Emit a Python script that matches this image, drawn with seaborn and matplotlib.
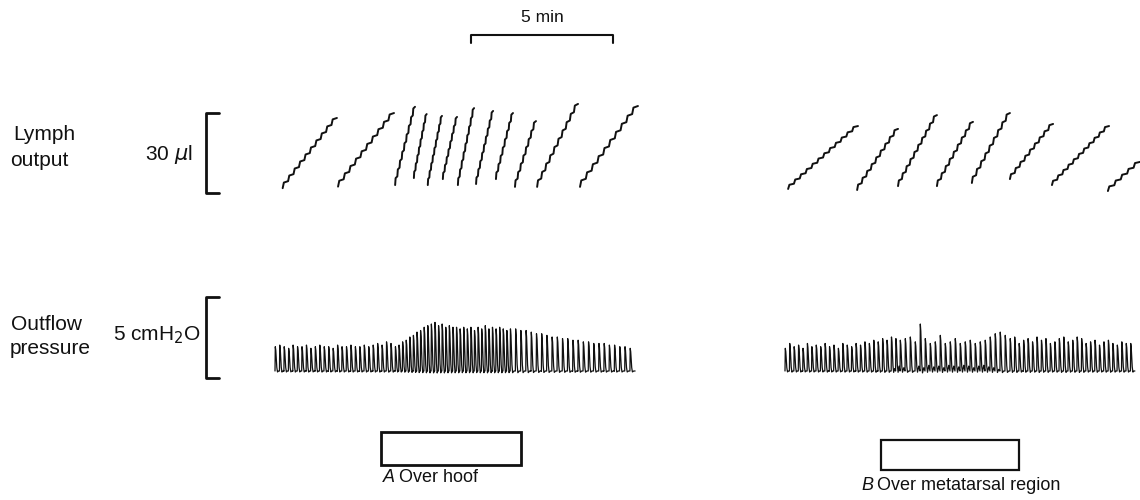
import numpy as np
import pandas as pd
import matplotlib
matplotlib.use("Agg")
import matplotlib.pyplot as plt
from matplotlib.patches import Rectangle
import seaborn as sns

# ---------------- data ----------------
# Lymph output ramps: start/end time (min from start of record), level (ul) at start/end, drops per ramp
A_ramp_t0 = [0.27, 2.22, 4.23, 4.89, 5.38, 5.91, 6.44, 7.08, 7.78, 8.45, 9.23, 10.74]
A_ramp_t1 = [2.18, 4.19, 4.93, 5.34, 5.88, 6.41, 7.01, 7.68, 8.38, 9.19, 10.67, 12.78]
A_ramp_v0 = [0.7, 1.3, 1.9, 4.6, 1.9, 4.2, 1.9, 2.3, 4.2, 1.2, 1.2, 1.2]
A_ramp_v1 = [27.7, 29.6, 32.0, 29.2, 28.5, 28.1, 31.5, 30.4, 29.6, 26.5, 33.1, 32.3]
A_ramp_drops = [10, 10, 9, 8, 9, 8, 9, 9, 8, 8, 10, 10]

B_ramp_t0 = [0.11, 2.54, 3.98, 5.35, 6.58, 7.92, 9.40, 11.37]
B_ramp_t1 = [2.57, 3.98, 5.35, 6.62, 7.92, 9.44, 11.41, 12.50]
B_ramp_v0 = [0.4, 0.0, 1.5, 1.5, 2.7, 4.2, 1.9, -0.4]
B_ramp_v1 = [24.6, 23.5, 28.8, 26.2, 29.6, 25.4, 24.6, 10.8]
B_ramp_drops = [12, 9, 10, 9, 9, 9, 11, 5]

# Outflow pressure: beats per segment, segment duration (min), beat amplitude (cmH2O)
A_seg_minutes = [4.23, 4.05, 4.40]
A_seg_beats = [27, 32, 24]
A_amp = [1.5, 1.6, 1.5, 1.4, 1.6, 1.5, 1.5, 1.6, 1.4, 1.5, 1.6, 1.5, 1.5, 1.4,
         1.6, 1.5, 1.5, 1.6, 1.5, 1.5, 1.6, 1.5, 1.6, 1.7, 1.6, 1.8, 1.7,
         1.5, 1.6, 1.8, 1.9, 2.1, 2.2, 2.4, 2.5, 2.7, 2.8, 2.9, 3.0, 2.8, 2.9,
         2.7, 2.8, 2.7, 2.7, 2.6, 2.7, 2.6, 2.7, 2.5, 2.7, 2.6, 2.8, 2.6, 2.7,
         2.6, 2.7, 2.6, 2.5,
         2.6, 2.6, 2.5, 2.5, 2.4, 2.3, 2.3, 2.2, 2.1, 2.1, 2.0, 2.0, 1.9, 1.9,
         1.8, 1.8, 1.7, 1.7, 1.7, 1.6, 1.6, 1.5, 1.5, 1.4]

B_seg_minutes = [4.05, 3.87, 4.40]
B_seg_beats = [26, 22, 28]
B_amp = [1.4, 1.7, 1.5, 1.6, 1.4, 1.7, 1.5, 1.6, 1.5, 1.7, 1.5, 1.6, 1.4, 1.7,
         1.6, 1.5, 1.7, 1.6, 1.8, 1.7, 1.9, 1.8, 2.0, 1.9, 2.1, 2.0,
         1.9, 2.0, 2.1, 1.8, 2.9, 2.0, 1.7, 1.8, 2.2, 1.7, 1.8, 2.0, 1.7, 1.8,
         1.9, 1.7, 1.8, 1.9, 2.1, 2.3, 2.4, 2.2,
         2.0, 2.1, 1.7, 1.9, 2.0, 1.8, 2.1, 1.9, 2.0, 1.7, 1.8, 2.0, 2.1, 1.8,
         1.9, 2.1, 2.0, 1.7, 1.8, 1.9, 1.6, 1.8, 1.9, 1.7, 1.6, 1.8, 1.7, 1.7]
# raised trough (cmH2O) between beats in the middle of record B (thick dark baseline)
B_trough = [0.0] * 24 + [0.15, 0.3, 0.2, 0.0, 0.0, 0.3, 0.2, 0.35, 0.25, 0.3, 0.2,
                         0.35, 0.3, 0.25, 0.35, 0.3, 0.2, 0.3, 0.35, 0.25, 0.2, 0.1,
                         0.0, 0.0] + [0.0] * 28

# ---------------- layout (pixel space of the page) ----------------
PX_PER_MIN = 28.4
A_X0, B_X0 = 275.0, 785.0
LYMPH_Y0, PX_PER_UL = 190.0, 2.6
PRESS_Y0, PX_PER_CM = 371.0, 16.2

def ramp_rows(x0, t0s, t1s, v0s, v1s, drops, tag):
    rows = []
    for i, (t0, t1, v0, v1, n) in enumerate(zip(t0s, t1s, v0s, v1s, drops)):
        dt = (t1 - t0) / n
        dv = (v1 - v0) / n
        pts = []
        for k in range(n):
            ta, va = t0 + k * dt, v0 + k * dv
            pts += [(ta, va), (ta + 0.22 * dt, va + 0.8 * dv)]
        pts.append((t1, v1))
        for t, v in pts:
            rows.append(dict(x=x0 + t * PX_PER_MIN, y=LYMPH_Y0 - v * PX_PER_UL,
                             seg=f"{tag}{i}"))
    return rows

def beat_rows(x0, seg_min, seg_beats, amps, tag, trough=None):
    rows = []
    t = 0.0
    j = 0
    for dur, nb in zip(seg_min, seg_beats):
        per = dur / nb
        for _ in range(nb):
            h = amps[j] * PX_PER_CM
            b = (trough[j] if trough is not None else 0.0) * PX_PER_CM
            xb = x0 + t * PX_PER_MIN
            p = per * PX_PER_MIN
            shape = [(0.0, 0.0), (0.3, 1.0), (0.8, 0.85), (1.3, 0.5),
                     (1.8, 0.15), (2.5, -0.04)]
            for dx, f in shape:
                rows.append(dict(x=xb + dx, y=PRESS_Y0 - f * h, seg=tag))
            rows.append(dict(x=xb + 0.5 * (2.5 + p), y=PRESS_Y0 - b, seg=tag))
            rows.append(dict(x=xb + p, y=PRESS_Y0, seg=tag))
            t += per
            j += 1
    return rows

lymph = pd.DataFrame(ramp_rows(A_X0, A_ramp_t0, A_ramp_t1, A_ramp_v0, A_ramp_v1, A_ramp_drops, "A")
                     + ramp_rows(B_X0, B_ramp_t0, B_ramp_t1, B_ramp_v0, B_ramp_v1, B_ramp_drops, "B"))
press = pd.DataFrame(beat_rows(A_X0, A_seg_minutes, A_seg_beats, A_amp, "PA")
                     + beat_rows(B_X0, B_seg_minutes, B_seg_beats, B_amp, "PB", B_trough))

# ---------------- drawing ----------------
sns.set_theme(style="white")
plt.rcParams["font.family"] = ["Liberation Sans", "DejaVu Sans"]

fig = plt.figure(figsize=(11.4, 5.0), dpi=100)
ax = fig.add_axes([0, 0, 1, 1])
ax.set_xlim(0, 1140)
ax.set_ylim(500, 0)
ax.axis("off")

ink = "#111111"
sns.lineplot(data=lymph, x="x", y="y", units="seg", estimator=None, sort=False,
             color=ink, lw=1.4, ax=ax, legend=False)
sns.lineplot(data=press, x="x", y="y", units="seg", estimator=None, sort=False,
             color=ink, lw=0.9, ax=ax, legend=False)

# 5 min time bar
ax.plot([A_X0 + 6.9 * PX_PER_MIN] * 2 + [A_X0 + 11.9 * PX_PER_MIN] * 2,
        [43, 35, 35, 43], color=ink, lw=1.5)
ax.text(542, 18, "5 min", ha="center", va="center", fontsize=12.5, color=ink)

# calibration brackets
def bracket(ytop, ybot):
    ax.plot([219, 206, 206, 219], [ytop, ytop, ybot, ybot], color=ink, lw=2)

bracket(LYMPH_Y0 - 29.5 * PX_PER_UL, LYMPH_Y0 + 3)
bracket(PRESS_Y0 + 7 - 5 * PX_PER_CM, PRESS_Y0 + 7)

fs = 15
ax.text(13, 135, "Lymph", ha="left", va="center", fontsize=fs, color=ink)
ax.text(10, 161, "output", ha="left", va="center", fontsize=fs, color=ink)
ax.text(193, 155, r"30 $\mu$l", ha="right", va="center", fontsize=fs, color=ink)
ax.text(11, 325, "Outflow", ha="left", va="center", fontsize=fs, color=ink)
ax.text(10, 348, "pressure", ha="left", va="center", fontsize=fs, color=ink)
ax.text(201, 335, r"5 cmH$_2$O", ha="right", va="center", fontsize=fs, color=ink)

# stimulus boxes
ax.add_patch(Rectangle((381, 432), 140, 33, fill=False, ec=ink, lw=2))
ax.add_patch(Rectangle((881, 440), 138, 30, fill=False, ec=ink, lw=1.6))
ax.text(383, 478, "A", style="italic", ha="left", va="center", fontsize=13, color=ink)
ax.text(399, 478, "Over hoof", ha="left", va="center", fontsize=13, color=ink)
ax.text(861, 485, "B", style="italic", ha="left", va="center", fontsize=13, color=ink)
ax.text(877, 485, "Over metatarsal region", ha="left", va="center", fontsize=13, color=ink)

fig.savefig("out.png", dpi=100, facecolor="white")
